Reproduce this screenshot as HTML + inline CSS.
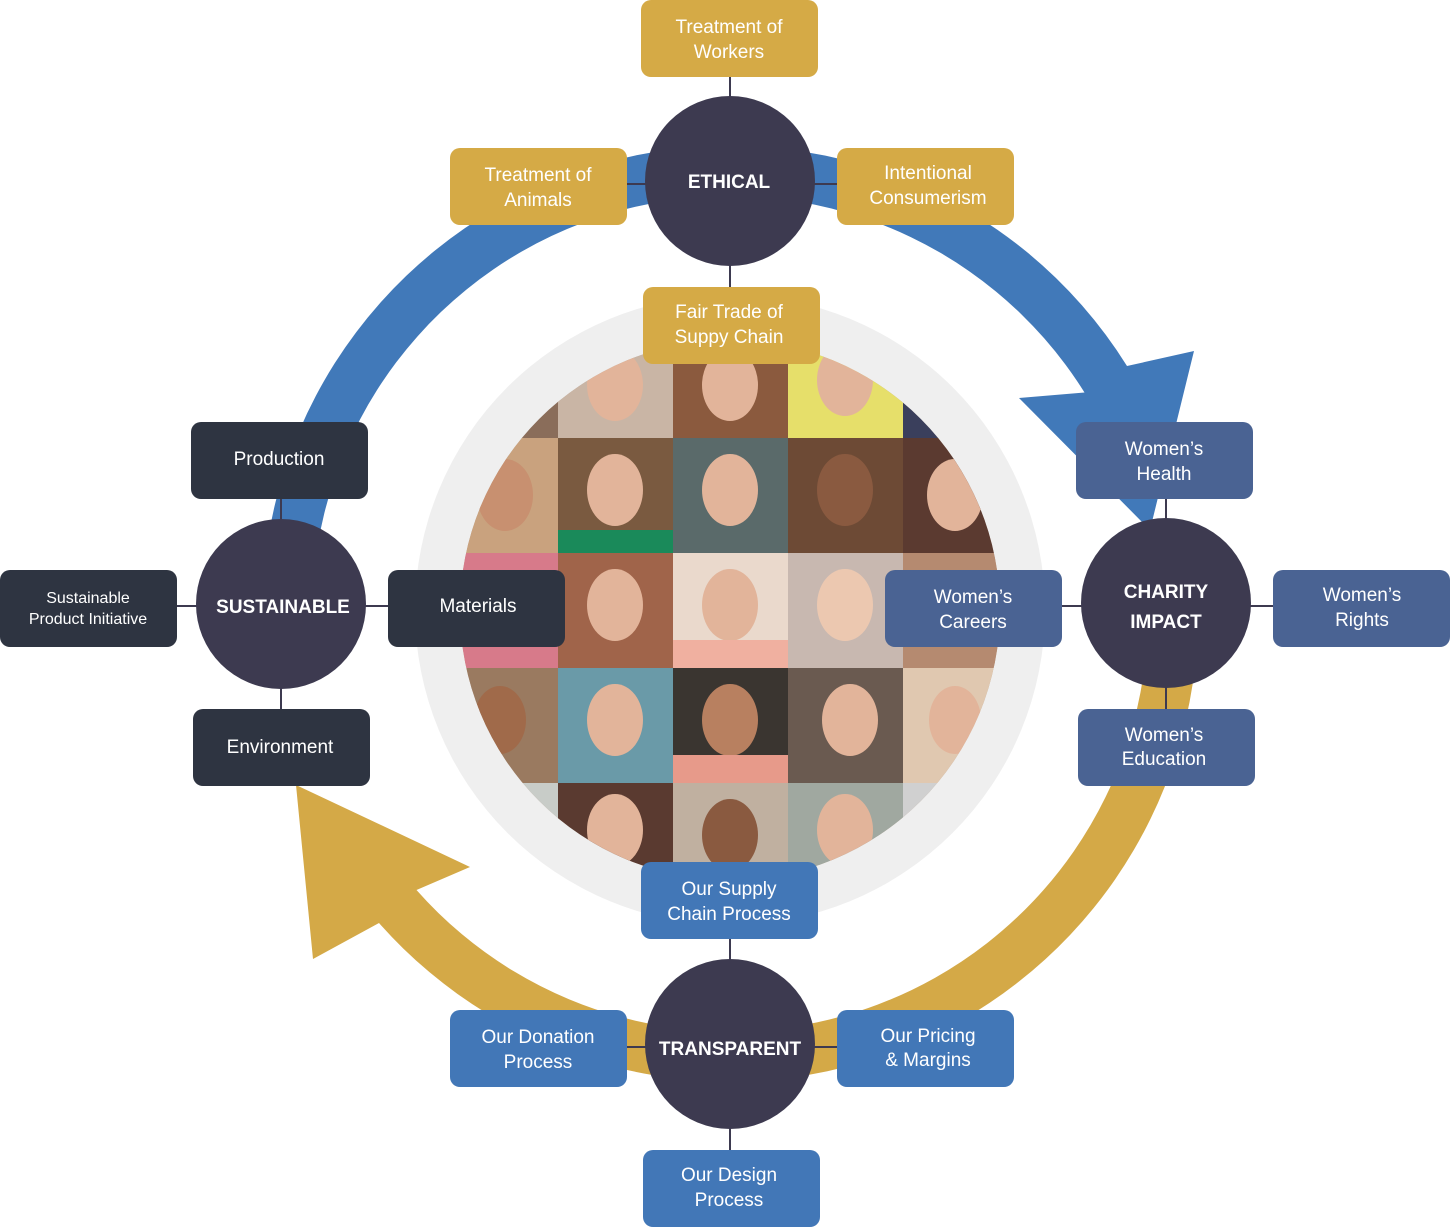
<!DOCTYPE html>
<html><head><meta charset="utf-8"><style>
html,body{margin:0;padding:0;background:#fff;width:1450px;height:1227px;overflow:hidden}
svg{display:block}
text{font-family:"Liberation Sans","DejaVu Sans",sans-serif;fill:#fff;text-anchor:middle}
.b{font-size:19px}
.s{font-size:16px}
.t{font-size:19px;font-weight:bold}
</style></head><body>
<svg width="1450" height="1227" viewBox="0 0 1450 1227" xmlns="http://www.w3.org/2000/svg">
<defs>
<clipPath id="pc"><circle cx="730" cy="610" r="270"/></clipPath>
</defs>
<!-- arcs -->
<path d="M262 614 A468 468 0 0 1 1127 366 L1194 351 L1150 530 L1019 398 L1084.5 392.5 A418 418 0 0 0 312 614 Z" fill="#4179b9"/>
<path d="M1198 614 A468 468 0 0 1 379 923 L313 959 L296 785 L470 867 L416.5 890 A418 418 0 0 0 1148 614 Z" fill="#d4a947"/>
<!-- inner grey -->
<circle cx="730" cy="610" r="315" fill="#efefef"/>
<!-- photos -->
<g clip-path="url(#pc)">
<rect x="443" y="323" width="575" height="575" fill="#b59a84"/>
<g id="tiles">
<rect x="443" y="323" width="115" height="115" fill="#8a6d5a"/><rect x="558" y="323" width="115" height="115" fill="#c9b5a5"/><rect x="673" y="323" width="115" height="115" fill="#8b5a3e"/><rect x="788" y="323" width="115" height="115" fill="#e6df6a"/><rect x="903" y="323" width="115" height="115" fill="#3a3f5c"/>
<rect x="443" y="438" width="115" height="115" fill="#c9a27e"/><rect x="558" y="438" width="115" height="115" fill="#7a5a40"/><rect x="673" y="438" width="115" height="115" fill="#5a6a6a"/><rect x="788" y="438" width="115" height="115" fill="#6d4a35"/><rect x="903" y="438" width="115" height="115" fill="#5b3a30"/>
<rect x="443" y="553" width="115" height="115" fill="#d77a8a"/><rect x="558" y="553" width="115" height="115" fill="#a0644a"/><rect x="673" y="553" width="115" height="115" fill="#ead9cc"/><rect x="788" y="553" width="115" height="115" fill="#c8b8b0"/><rect x="903" y="553" width="115" height="115" fill="#b58a70"/>
<rect x="443" y="668" width="115" height="115" fill="#9a7a60"/><rect x="558" y="668" width="115" height="115" fill="#6a9aa8"/><rect x="673" y="668" width="115" height="115" fill="#3a3530"/><rect x="788" y="668" width="115" height="115" fill="#6a5a50"/><rect x="903" y="668" width="115" height="115" fill="#e0c8b0"/>
<rect x="443" y="783" width="115" height="115" fill="#c8ccc8"/><rect x="558" y="783" width="115" height="115" fill="#5a3a30"/><rect x="673" y="783" width="115" height="115" fill="#c0b0a0"/><rect x="788" y="783" width="115" height="115" fill="#a0a8a0"/><rect x="903" y="783" width="115" height="115" fill="#d0d0d0"/>
</g>
<g fill="#e2b49a">
<ellipse cx="615" cy="385" rx="28" ry="36"/><ellipse cx="730" cy="385" rx="28" ry="36"/><ellipse cx="845" cy="380" rx="28" ry="36"/>
<ellipse cx="505" cy="495" rx="28" ry="36" fill="#c89070"/><ellipse cx="615" cy="490" rx="28" ry="36"/><ellipse cx="730" cy="490" rx="28" ry="36"/><ellipse cx="845" cy="490" rx="28" ry="36" fill="#8a5a40"/><ellipse cx="955" cy="495" rx="28" ry="36"/>
<ellipse cx="615" cy="605" rx="28" ry="36"/><ellipse cx="730" cy="605" rx="28" ry="36"/><ellipse cx="845" cy="605" rx="28" ry="36" fill="#ecc8b0"/>
<ellipse cx="500" cy="720" rx="26" ry="34" fill="#a06a4a"/><ellipse cx="615" cy="720" rx="28" ry="36"/><ellipse cx="730" cy="720" rx="28" ry="36" fill="#b88060"/><ellipse cx="850" cy="720" rx="28" ry="36"/><ellipse cx="955" cy="720" rx="26" ry="34"/>
<ellipse cx="615" cy="830" rx="28" ry="36"/><ellipse cx="730" cy="835" rx="28" ry="36" fill="#8a5a40"/><ellipse cx="845" cy="830" rx="28" ry="36"/>
</g>
<g fill="#e79a8a"><rect x="673" y="755" width="115" height="28"/><rect x="558" y="530" width="115" height="23" fill="#1a8a5a"/><rect x="673" y="640" width="115" height="28" fill="#f0b0a0"/></g>
</g>
<!-- connectors -->
<g stroke="#3d3a50" stroke-width="2">
<line x1="730" y1="77" x2="730" y2="287"/><line x1="627" y1="184" x2="837" y2="184"/>
<line x1="281" y1="499" x2="281" y2="709"/><line x1="177" y1="606" x2="388" y2="606"/>
<line x1="1166" y1="499" x2="1166" y2="709"/><line x1="1062" y1="606" x2="1273" y2="606"/>
<line x1="730" y1="939" x2="730" y2="1150"/><line x1="627" y1="1047" x2="837" y2="1047"/>
</g>
<!-- boxes -->
<g fill="#d5aa46">
<rect x="641" y="0" width="177" height="77" rx="10"/><rect x="450" y="148" width="177" height="77" rx="10"/><rect x="837" y="148" width="177" height="77" rx="10"/><rect x="643" y="287" width="177" height="77" rx="10"/>
</g>
<g fill="#2e3441">
<rect x="191" y="422" width="177" height="77" rx="10"/><rect x="0" y="570" width="177" height="77" rx="10"/><rect x="388" y="570" width="177" height="77" rx="10"/><rect x="193" y="709" width="177" height="77" rx="10"/>
</g>
<g fill="#4a6393">
<rect x="1076" y="422" width="177" height="77" rx="10"/><rect x="885" y="570" width="177" height="77" rx="10"/><rect x="1273" y="570" width="177" height="77" rx="10"/><rect x="1078" y="709" width="177" height="77" rx="10"/>
</g>
<g fill="#4277b7">
<rect x="641" y="862" width="177" height="77" rx="10"/><rect x="450" y="1010" width="177" height="77" rx="10"/><rect x="837" y="1010" width="177" height="77" rx="10"/><rect x="643" y="1150" width="177" height="77" rx="10"/>
</g>
<!-- circles -->
<g fill="#3d3a50">
<circle cx="730" cy="181" r="85"/><circle cx="281" cy="604" r="85"/><circle cx="1166" cy="603" r="85"/><circle cx="730" cy="1044" r="85"/>
</g>
<text class="t" x="729" y="188">ETHICAL</text>
<text class="t" x="283" y="613">SUSTAINABLE</text>
<text class="t" x="1166" y="598">CHARITY</text><text class="t" x="1166" y="628">IMPACT</text>
<text class="t" x="730" y="1055">TRANSPARENT</text>
<!-- box labels -->
<text class="b" x="729" y="33">Treatment of</text><text class="b" x="729" y="58">Workers</text>
<text class="b" x="538" y="181">Treatment of</text><text class="b" x="538" y="206">Animals</text>
<text class="b" x="928" y="179">Intentional</text><text class="b" x="928" y="204">Consumerism</text>
<text class="b" x="729" y="318">Fair Trade of</text><text class="b" x="729" y="343">Suppy Chain</text>
<text class="b" x="279" y="465">Production</text>
<text class="s" x="88" y="603">Sustainable</text><text class="s" x="88" y="624">Product Initiative</text>
<text class="b" x="478" y="612">Materials</text>
<text class="b" x="280" y="753">Environment</text>
<text class="b" x="1164" y="455">Women’s</text><text class="b" x="1164" y="480">Health</text>
<text class="b" x="973" y="603">Women’s</text><text class="b" x="973" y="628">Careers</text>
<text class="b" x="1362" y="601">Women’s</text><text class="b" x="1362" y="626">Rights</text>
<text class="b" x="1164" y="741">Women’s</text><text class="b" x="1164" y="765">Education</text>
<text class="b" x="729" y="895">Our Supply</text><text class="b" x="729" y="920">Chain Process</text>
<text class="b" x="538" y="1043">Our Donation</text><text class="b" x="538" y="1068">Process</text>
<text class="b" x="928" y="1042">Our Pricing</text><text class="b" x="928" y="1066">&amp; Margins</text>
<text class="b" x="729" y="1181">Our Design</text><text class="b" x="729" y="1206">Process</text>
</svg>
</body></html>
